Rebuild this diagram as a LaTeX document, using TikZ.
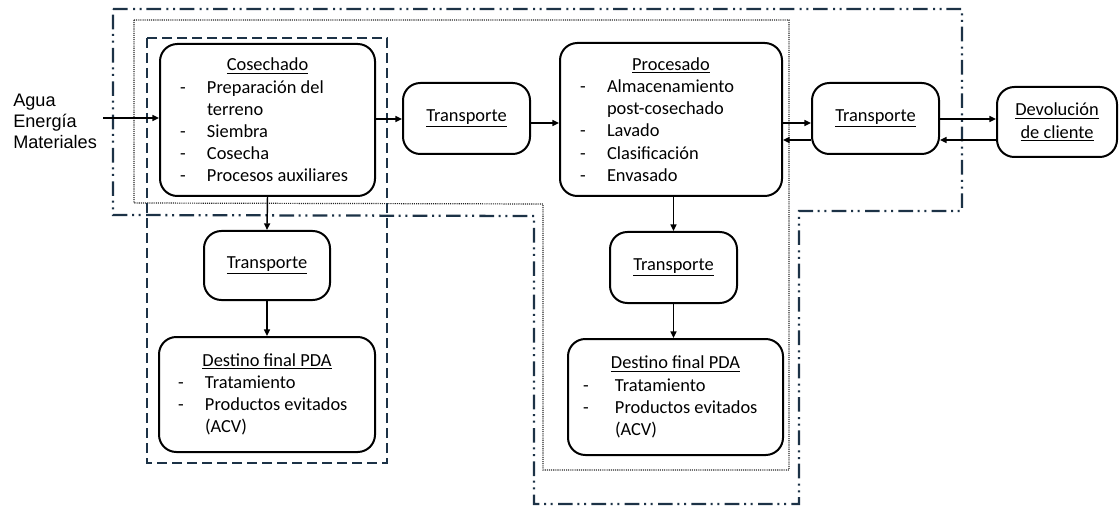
\documentclass[tikz,border=0pt]{standalone}
\usepackage{fontspec}
\setmainfont{Carlito}
\newfontfamily\arialf{Liberation Sans}
\usetikzlibrary{arrows.meta}
\definecolor{bcol}{RGB}{28,50,70}
\newlength\dgap
\setlength\dgap{20.25pt}
\newcommand\bt[1]{\par\noindent\makebox[\dgap][l]{-}#1}
\newcommand\ct[1]{\par\noindent\hspace*{\dgap}#1}
\newcommand\ttl[1]{\par\noindent\hfil\underline{#1}\hfil}
\begin{document}
\begin{tikzpicture}[x=0.75pt,y=-0.75pt,
  box/.style={draw=black, line width=1.5pt, rounded corners=13pt, fill=white, inner sep=0pt,
    font=\fontsize{13.8}{16.6}\selectfont},
  arr/.style={-{Triangle[length=5pt,width=4.5pt]}, line width=1.1pt},
  dashdotdot/.style={draw=bcol, line width=1.7pt, dash pattern=on 11pt off 4pt on 1.5pt off 3.5pt on 1.5pt off 3.5pt},
  dashbound/.style={draw=bcol, line width=1.4pt, dash pattern=on 7.5pt off 3.75pt},
  dotbound/.style={draw=black!85, line width=0.9pt, dash pattern=on 0.8pt off 0.8pt}]
\useasboundingbox (0,0) rectangle (1119,509);

% boundaries
\draw[dashdotdot] (113,9) -- (962,9) -- (962,211) -- (799,211) -- (799,504) -- (534,504) -- (534,216) -- (113,215) -- cycle;
\draw[dotbound] (134,20) -- (789,20) -- (789,470) -- (543,470) -- (543,204) -- (134,203) -- cycle;
\draw[dashbound] (147,38) rectangle (387,463);

% nodes
\node[box, minimum width=161.25pt, minimum height=114pt] (cos) at (267.5,120) {%
  \begin{minipage}{131.25pt}\ttl{Cosechado}\bt{Preparación del}\ct{terreno}\bt{Siembra}\bt{Cosecha}\bt{Procesos auxiliares}\end{minipage}};
\node[box, minimum width=95.25pt, minimum height=53.25pt] (tr1) at (466.5,118.5) {\underline{Transporte}};
\node[box, minimum width=166.5pt, minimum height=114.75pt] (proc) at (671,119.5) {%
  \begin{minipage}{136.5pt}\ttl{Procesado}\bt{Almacenamiento}\ct{post-cosechado}\bt{Lavado}\bt{Clasificación}\bt{Envasado}\end{minipage}};
\node[box, minimum width=95.25pt, minimum height=53.25pt] (tr2) at (875.5,118.5) {\underline{Transporte}};
\node[box, minimum width=90pt, minimum height=52.5pt, align=center] (dev) at (1057,122) {\underline{Devolución}\\\underline{de cliente}};
\node[box, minimum width=94.5pt, minimum height=51.75pt] (tr3) at (267,265.5) {\underline{Transporte}};
\node[box, minimum width=162pt, minimum height=86.25pt] (dst1) at (267,394.5) {%
  \begin{minipage}{133.5pt}\ttl{Destino final PDA}\bt{Tratamiento}\bt{Productos evitados}\ct{(ACV)}\end{minipage}};
\node[box, minimum width=95.25pt, minimum height=53.25pt] (tr4) at (673.5,267.5) {\underline{Transporte}};
\node[box, minimum width=161.25pt, minimum height=87pt] (dst2) at (675.5,397) {%
  \setlength\dgap{24pt}\begin{minipage}{138.75pt}\ttl{Destino final PDA}\bt{Tratamiento}\bt{Productos evitados}\ct{(ACV)}\end{minipage}};

\node[anchor=west, align=left, inner sep=0pt, font=\arialf\fontsize{13.6}{15.75}\selectfont] (inp) at (13,121) {Agua\\Energía\\Materiales};

% helper coordinates
\coordinate (inS) at (103,118);
\coordinate (yA) at (0,119);
\coordinate (yB) at (0,123);
\coordinate (yC) at (0,140);

% connectors
\draw[arr] (inS) -- (cos.west |- inS);
\draw[arr] (cos.east |- yA) -- (tr1.west |- yA);
\draw[arr] (tr1.east |- yB) -- (proc.west |- yB);
\draw[arr] (proc.east |- yB) -- (tr2.west |- yB);
\draw[arr] (tr2.west |- yC) -- (proc.east |- yC);
\draw[arr] (tr2.east |- yA) -- (dev.west |- yA);
\draw[arr] (dev.west |- yC) -- (tr2.east |- yC);
\draw[arr] (cos.south) -- (tr3.north);
\draw[arr] (tr3.south) -- (dst1.north);
\draw[arr] (proc.south -| tr4.north) -- (tr4.north);
\draw[arr] (tr4.south) -- (dst2.north -| tr4.south);
\end{tikzpicture}
\end{document}
